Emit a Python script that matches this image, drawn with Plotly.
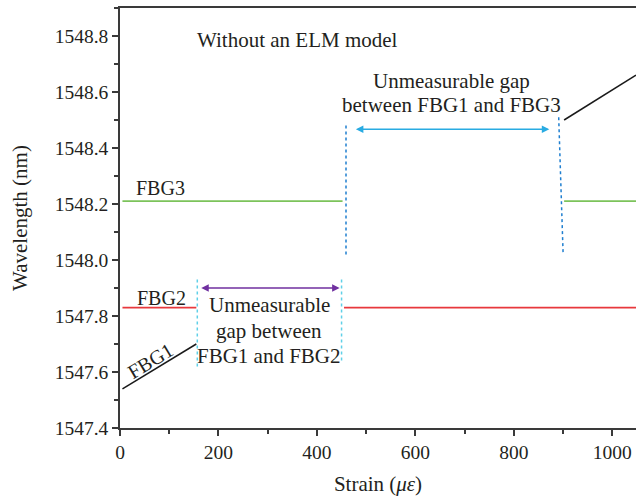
import plotly.graph_objects as go

# ---- data (strain in microstrain, wavelength in nm) ----
fbg1_strain = [5, 155, None, 902, 1048]
fbg1_wl = [1547.54, 1547.70, None, 1548.50, 1548.66]

fbg2_strain = [5, 155, None, 455, 1048]
fbg2_wl = [1547.83, 1547.83, None, 1547.83, 1547.83]

fbg3_strain = [5, 452, None, 902, 1048]
fbg3_wl = [1548.21, 1548.21, None, 1548.21, 1548.21]

# gap boundary markers (dotted)
gap13_strain = [459, 459, None, 891, 900]
gap13_wl = [1548.48, 1548.02, None, 1548.51, 1548.02]
gap12_strain = [157, 157, None, 450, 450]
gap12_wl = [1547.93, 1547.61, None, 1547.93, 1547.635]

# double arrows: (start, end, wavelength)
arrow12 = (162, 446, 1547.90)
arrow13 = (476, 872, 1548.467)

x_ticks = [0, 200, 400, 600, 800, 1000]
y_ticks = [1547.4, 1547.6, 1547.8, 1548.0, 1548.2, 1548.4, 1548.6, 1548.8]

FONT = "Liberation Serif"
TXT = "#231f20"

fig = go.Figure()
fig.add_trace(go.Scatter(x=fbg1_strain, y=fbg1_wl, mode="lines",
                         line=dict(color="#1a1a1a", width=1.5), connectgaps=False))
fig.add_trace(go.Scatter(x=fbg2_strain, y=fbg2_wl, mode="lines",
                         line=dict(color="#e8383d", width=1.8), connectgaps=False))
fig.add_trace(go.Scatter(x=fbg3_strain, y=fbg3_wl, mode="lines",
                         line=dict(color="#7cc35b", width=1.8), connectgaps=False))
fig.add_trace(go.Scatter(x=gap13_strain, y=gap13_wl, mode="lines",
                         line=dict(color="#1f7fd0", width=1.5, dash="dot"), connectgaps=False))
fig.add_trace(go.Scatter(x=gap12_strain, y=gap12_wl, mode="lines",
                         line=dict(color="#5fd0e8", width=1.5, dash="dot"), connectgaps=False))

ann = []
for (a, b, w), col in [(arrow12, "#7030a0"), (arrow13, "#29abe2")]:
    ann.append(dict(x=b, y=w, ax=a, ay=w, xref="x", yref="y", axref="x", ayref="y",
                    text="", showarrow=True, arrowhead=2, arrowside="end+start",
                    arrowsize=1, arrowwidth=1.5, arrowcolor=col))

def label(t, x, y, anchor="center", size=21, angle=0):
    ann.append(dict(x=x, y=y, xref="x", yref="y", text=t, showarrow=False,
                    xanchor=anchor, yanchor="middle", textangle=angle,
                    font=dict(family=FONT, size=size, color=TXT)))

label("Without an ELM model", 152, 1548.785, anchor="left")
label("Unmeasurable gap", 674, 1548.641)
label("between FBG1 and FBG3", 674, 1548.554)
label("FBG3", 28, 1548.258, anchor="left", size=20)
label("FBG2", 30, 1547.863, anchor="left", size=20)
label("FBG1", 61, 1547.639, size=20, angle=-31)
label("Unmeasurable", 303, 1547.838)
label("gap between", 303, 1547.745)
label("FBG1 and FBG2", 303, 1547.658)

axis_common = dict(showline=True, linecolor="#3a3a3a", linewidth=1.5,
                   ticks="outside", ticklen=6, tickwidth=1.5, tickcolor="#3a3a3a",
                   showgrid=False, zeroline=False, automargin=False,
                   tickfont=dict(family=FONT, size=19.5, color=TXT))

fig.update_layout(
    width=636, height=496,
    margin=dict(l=120, r=0, t=8, b=68, autoexpand=False),
    paper_bgcolor="white", plot_bgcolor="white",
    showlegend=False,
    annotations=ann,
    xaxis=dict(range=[0, 1048], tickvals=x_ticks, mirror=True,
               minor=dict(dtick=100, tick0=0, ticks="outside", ticklen=4,
                          tickwidth=1.5, tickcolor="#3a3a3a"),
               title=dict(text="Strain (<i>με</i>)", standoff=14,
                          font=dict(family=FONT, size=21, color=TXT)),
               **axis_common),
    yaxis=dict(range=[1547.4, 1548.9], tickvals=y_ticks, tickformat=".1f",
               minor=dict(dtick=0.1, tick0=1547.4, ticks="outside", ticklen=4,
                          tickwidth=1.5, tickcolor="#3a3a3a"),
               title=dict(text="Wavelength (nm)", standoff=21,
                          font=dict(family=FONT, size=21, color=TXT)),
               **axis_common),
)

fig.write_html("out.html", config={"displayModeBar": False},
               post_script="document.body.style.margin='0';document.body.style.overflow='hidden';")
